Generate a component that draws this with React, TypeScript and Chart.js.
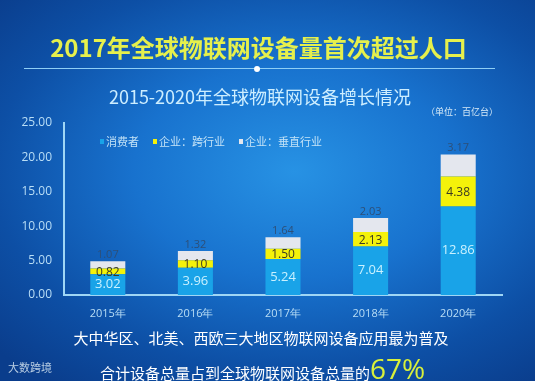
import React, { useEffect, useRef } from "react";
import { Chart, registerables } from "chart.js";

Chart.register(...registerables);

const categories = ["2015年", "2016年", "2017年", "2018年", "2020年"];
const consumer = [3.02, 3.96, 5.24, 7.04, 12.86];
const crossIndustry = [0.82, 1.1, 1.5, 2.13, 4.38];
const vertical = [1.07, 1.32, 1.64, 2.03, 3.17];
const seriesNames = ["消费者", "企业：跨行业", "企业：垂直行业"];
const yTicks = [0, 5, 10, 15, 20, 25];

const COLORS = ["#19a3e8", "#f4f20a", "#e4e7ee"];
const FONT = '"Noto Sans CJK SC", "Noto Sans", sans-serif';
const NUMFONT = '"Open Sans", "Noto Sans", sans-serif';

const labelPlugin = {
  id: "segLabels",
  afterDatasetsDraw(chart: any) {
    const ctx = chart.ctx;
    ctx.save();
    ctx.textAlign = "center";
    chart.data.datasets.forEach((ds: any, di: number) => {
      const meta = chart.getDatasetMeta(di);
      meta.data.forEach((bar: any, i: number) => {
        const v = ds.data[i];
        const txt = v.toFixed(2);
        if (di === 0) {
          ctx.fillStyle = "#c9f1ff";
          ctx.font = `13px ${NUMFONT}`;
          ctx.textBaseline = "middle";
          ctx.fillText(txt, bar.x, (bar.y + bar.base) / 2);
        } else if (di === 1) {
          ctx.fillStyle = "#3b3a24";
          ctx.font = `12px ${NUMFONT}`;
          ctx.textBaseline = "middle";
          ctx.fillText(txt, bar.x, (bar.y + bar.base) / 2 + 1);
        } else {
          ctx.fillStyle = "#2d4f78";
          ctx.font = `11px ${NUMFONT}`;
          ctx.textBaseline = "bottom";
          ctx.fillText(txt, bar.x, bar.y - 1);
        }
      });
    });
    ctx.restore();
  },
};

export default function App() {
  const ref = useRef<HTMLCanvasElement>(null);
  useEffect(() => {
    const chart = new Chart(ref.current as HTMLCanvasElement, {
      type: "bar",
      data: {
        labels: categories,
        datasets: [
          { label: seriesNames[0], data: consumer, backgroundColor: COLORS[0] },
          { label: seriesNames[1], data: crossIndustry, backgroundColor: COLORS[1] },
          { label: seriesNames[2], data: vertical, backgroundColor: COLORS[2] },
        ],
      },
      options: {
        animation: false,
        responsive: false,
        maintainAspectRatio: false,
        layout: { padding: { left: 0, top: 123, right: 33, bottom: 56 } },
        plugins: { legend: { display: false }, tooltip: { enabled: false }, title: { display: false } },
        datasets: { bar: { barPercentage: 0.4, categoryPercentage: 1 } } as any,
        scales: {
          x: {
            stacked: true,
            grid: { display: false },
            border: { display: true, color: "#9fd6f5", width: 2 },
            ticks: { color: "#b9def6", font: { family: NUMFONT, size: 11 }, padding: 4 },
            afterFit: (s: any) => { s.height = 30; },
          },
          y: {
            stacked: true,
            min: 0,
            max: 25,
            afterBuildTicks: (s: any) => { s.ticks = yTicks.map((v) => ({ value: v })); },
            grid: { display: false },
            border: { display: true, color: "#9fd6f5", width: 2 },
            ticks: {
              color: "#b9def6",
              font: { family: NUMFONT, size: 12 },
              padding: 4,
              callback: (v: any) => Number(v).toFixed(2),
            },
            afterFit: (s: any) => { s.width = 64; },
          },
        },
      },
      plugins: [labelPlugin],
    });
    return () => chart.destroy();
  }, []);

  const abs = (o: React.CSSProperties): React.CSSProperties => ({ position: "absolute", ...o });

  return (
    <div
      style={{
        position: "fixed",
        left: 0,
        top: 0,
        width: 535,
        height: 381,
        overflow: "hidden",
        fontFamily: FONT,
        background:
          "radial-gradient(ellipse 75% 70% at 55% 45%, #2792e4 0%, #1872ce 40%, #0d4fa5 75%, #0a3d8c 100%)",
      }}
    >
      <div style={abs({ left: 0, width: 517, top: 31, textAlign: "center", color: "#e6f04c", fontSize: 24, fontWeight: 700, lineHeight: "32px" })}>
        2017年全球物联网设备量首次超过人口
      </div>
      <div style={abs({ left: 24, width: 471, top: 68, height: 1, background: "#8fcff5" })} />
      <div style={abs({ left: 254, top: 66, width: 6, height: 6, borderRadius: 3, background: "#ffffff" })} />
      <div style={abs({ left: 0, width: 520, top: 83, textAlign: "center", color: "#cdeeff", fontSize: 18, lineHeight: "26px" })}>
        2015-2020年全球物联网设备增长情况
      </div>
      <div style={abs({ left: 426, top: 105, color: "#d5e9f7", fontSize: 9, lineHeight: "14px" })}>（单位：百亿台）</div>
      <canvas ref={ref} width={535} height={381} style={abs({ left: 0, top: 0, width: 535, height: 381 })} />
      <div style={abs({ left: 100, top: 134, display: "flex", gap: 14, color: "#c4e3f7", fontSize: 11, lineHeight: "14px" })}>
        {seriesNames.map((n, i) => (
          <span key={n} style={{ display: "flex", alignItems: "center" }}>
            <span style={{ display: "inline-block", width: 4, height: 5, background: COLORS[i], marginRight: 2 }} />
            {n}
          </span>
        ))}
      </div>
      <div style={abs({ left: 0, width: 522, top: 327, textAlign: "center", color: "#ffffff", fontSize: 15, lineHeight: "22px" })}>
        大中华区、北美、西欧三大地区物联网设备应用最为普及
      </div>
      <div style={abs({ left: 100, top: 350, color: "#ffffff", fontSize: 15, lineHeight: "36px", whiteSpace: "nowrap" })}>
        合计设备总量占到全球物联网设备总量的
        <span style={{ color: "#d8f03a", fontSize: 28, fontFamily: NUMFONT }}>67%</span>
      </div>
      <div style={abs({ left: 8, top: 360, color: "#b8cde3", fontSize: 11, lineHeight: "14px" })}>大数跨境</div>
    </div>
  );
}
